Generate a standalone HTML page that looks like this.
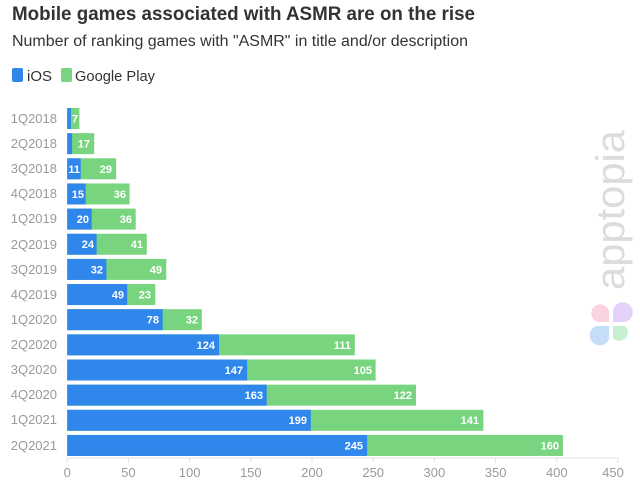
<!DOCTYPE html>
<html><head><meta charset="utf-8"><style>
html,body{margin:0;padding:0;background:#fff;}
svg{display:block;font-family:"Liberation Sans",sans-serif;}
.yl{font-size:13px;fill:#9a9a9a;text-anchor:end;}
.xl{font-size:13px;fill:#9a9a9a;text-anchor:middle;}
.v{font-size:11px;fill:#fff;font-weight:bold;text-anchor:end;}
</style></head><body>
<svg width="640" height="482" viewBox="0 0 640 482">
<text x="12" y="20" font-size="19.5" font-weight="bold" fill="#333" textLength="463" lengthAdjust="spacingAndGlyphs">Mobile games associated with ASMR are on the rise</text>
<text x="12" y="46" font-size="15.5" fill="#333" textLength="456" lengthAdjust="spacingAndGlyphs">Number of ranking games with "ASMR" in title and/or description</text>
<rect x="12" y="68" width="11" height="14" rx="2" fill="#2f86eb"/>
<text x="27" y="81" font-size="15" fill="#333">iOS</text>
<rect x="61" y="68" width="11" height="14" rx="2" fill="#78d47f"/>
<text x="75" y="81" font-size="15" fill="#333" textLength="80" lengthAdjust="spacingAndGlyphs">Google Play</text>

<line x1="67.2" y1="458" x2="618" y2="458" stroke="#e0e0e0"/>
<g stroke="#e0e0e0">
<line x1="67.2" y1="458" x2="67.2" y2="463"/><line x1="128.4" y1="458" x2="128.4" y2="463"/><line x1="189.6" y1="458" x2="189.6" y2="463"/><line x1="250.8" y1="458" x2="250.8" y2="463"/><line x1="312" y1="458" x2="312" y2="463"/><line x1="373.2" y1="458" x2="373.2" y2="463"/><line x1="434.4" y1="458" x2="434.4" y2="463"/><line x1="495.6" y1="458" x2="495.6" y2="463"/><line x1="556.8" y1="458" x2="556.8" y2="463"/><line x1="618" y1="458" x2="618" y2="463"/>
</g>
<g>
<text x="67.2" y="477" class="xl">0</text><text x="128.4" y="477" class="xl">50</text><text x="189.6" y="477" class="xl">100</text><text x="250.8" y="477" class="xl">150</text><text x="312" y="477" class="xl">200</text><text x="373.2" y="477" class="xl">250</text><text x="434.4" y="477" class="xl">300</text><text x="495.6" y="477" class="xl">350</text><text x="556.8" y="477" class="xl">400</text><text x="613" y="477" class="xl">450</text>
</g>

<g>
<text class="yl" x="57" y="123">1Q2018</text>
<text class="yl" x="57" y="148">2Q2018</text>
<text class="yl" x="57" y="173">3Q2018</text>
<text class="yl" x="57" y="198">4Q2018</text>
<text class="yl" x="57" y="223">1Q2019</text>
<text class="yl" x="57" y="249">2Q2019</text>
<text class="yl" x="57" y="274">3Q2019</text>
<text class="yl" x="57" y="299">4Q2019</text>
<text class="yl" x="57" y="324">1Q2020</text>
<text class="yl" x="57" y="349">2Q2020</text>
<text class="yl" x="57" y="374">3Q2020</text>
<text class="yl" x="57" y="399">4Q2020</text>
<text class="yl" x="57" y="424">1Q2021</text>
<text class="yl" x="57" y="450">2Q2021</text>
</g>

<g fill="#78d47f">
<rect x="67.2" y="108" width="12.2" height="21"/>
<rect x="67.2" y="133.15" width="27" height="21"/>
<rect x="67.2" y="158.3" width="49" height="21"/>
<rect x="67.2" y="183.45" width="62.4" height="21"/>
<rect x="67.2" y="208.6" width="68.5" height="21"/>
<rect x="67.2" y="233.75" width="79.6" height="21"/>
<rect x="67.2" y="258.9" width="99.1" height="21"/>
<rect x="67.2" y="284.05" width="88.1" height="21"/>
<rect x="67.2" y="309.2" width="134.6" height="21"/>
<rect x="67.2" y="334.35" width="287.6" height="21"/>
<rect x="67.2" y="359.5" width="308.4" height="21"/>
<rect x="67.2" y="384.65" width="348.8" height="21"/>
<rect x="67.2" y="409.8" width="416.2" height="21"/>
<rect x="67.2" y="434.95" width="495.7" height="21"/>
</g>
<g fill="#2f86eb">
<rect x="67.2" y="108" width="3.7" height="21"/>
<rect x="67.2" y="133.15" width="4.9" height="21"/>
<rect x="67.2" y="158.3" width="13.5" height="21"/>
<rect x="67.2" y="183.45" width="18.4" height="21"/>
<rect x="67.2" y="208.6" width="24.5" height="21"/>
<rect x="67.2" y="233.75" width="29.4" height="21"/>
<rect x="67.2" y="258.9" width="39.2" height="21"/>
<rect x="67.2" y="284.05" width="60" height="21"/>
<rect x="67.2" y="309.2" width="95.5" height="21"/>
<rect x="67.2" y="334.35" width="151.8" height="21"/>
<rect x="67.2" y="359.5" width="179.9" height="21"/>
<rect x="67.2" y="384.65" width="199.5" height="21"/>
<rect x="67.2" y="409.8" width="243.6" height="21"/>
<rect x="67.2" y="434.95" width="299.9" height="21"/>
</g>
<g>
<text class="v" x="78" y="122.5">7</text>
<text class="v" x="90" y="147.6">17</text>
<text class="v" x="80" y="172.8">11</text><text class="v" x="112" y="172.8">29</text>
<text class="v" x="84" y="197.9">15</text><text class="v" x="126" y="197.9">36</text>
<text class="v" x="89" y="223">20</text><text class="v" x="132" y="223">36</text>
<text class="v" x="94" y="248.2">24</text><text class="v" x="143" y="248.2">41</text>
<text class="v" x="103" y="273.3">32</text><text class="v" x="162" y="273.3">49</text>
<text class="v" x="124" y="298.5">49</text><text class="v" x="151" y="298.5">23</text>
<text class="v" x="159" y="323.6">78</text><text class="v" x="198" y="323.6">32</text>
<text class="v" x="215" y="348.8">124</text><text class="v" x="351" y="348.8">111</text>
<text class="v" x="243" y="373.9">147</text><text class="v" x="372" y="373.9">105</text>
<text class="v" x="263" y="399.1">163</text><text class="v" x="412" y="399.1">122</text>
<text class="v" x="307" y="424.2">199</text><text class="v" x="479" y="424.2">141</text>
<text class="v" x="363" y="449.4">245</text><text class="v" x="559" y="449.4">160</text>
</g>

<text transform="translate(624,290) rotate(-90)" font-size="40" fill="#dcdcdc" textLength="160" lengthAdjust="spacingAndGlyphs">apptopia</text>
<g opacity="0.5">
<path d="M609 322 h-11 a9 9 0 1 1 11 -11 z" fill="#f4a9bd"/>
<path d="M613 322 v-12 a10 10 0 1 1 12 12 z" fill="#c9a7f5"/>
<path d="M609 326 v13 a10 10 0 1 1 -13 -13 z" fill="#8fbdf5"/>
<path d="M613 326 h12 a8.5 8.5 0 1 1 -12 12 z" fill="#8ee0a6"/>
</g>
</svg>
</body></html>
